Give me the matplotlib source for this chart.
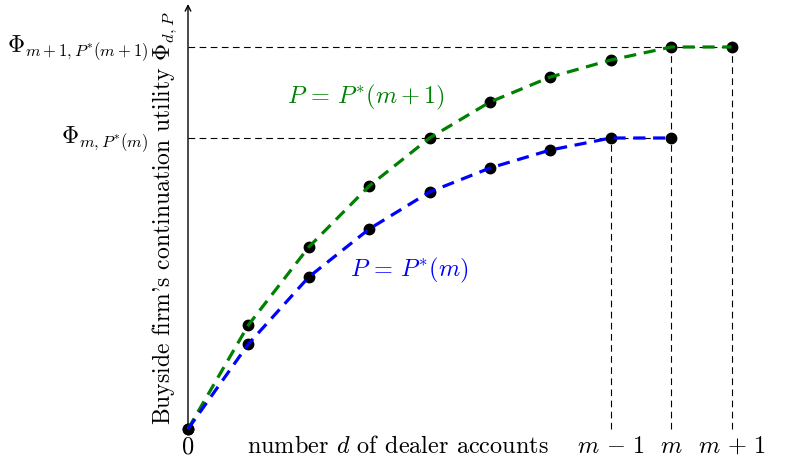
import matplotlib
matplotlib.use('Agg')
from matplotlib import pyplot as plt
import numpy as np

plt.rcParams['mathtext.fontset'] = 'cm'
plt.rcParams['font.family'] = ['cmr10', 'DejaVu Serif']
plt.rcParams['axes.unicode_minus'] = False

# number of dealer accounts d = 0 .. m+1 (m = 8)
d_green = np.arange(10)
phi_green = [0, 104, 182, 243, 291, 327, 352, 369, 382, 382]   # P = P*(m+1)
d_blue = np.arange(9)
phi_blue = [0, 85, 152, 200, 237, 261, 279, 291, 291]          # P = P*(m)

x_ticks = [0, 7, 8, 9]
x_ticklabels = ['$0$', r'$m\,-\,1$', '$m$', r'$m\,+\,1$']
phi_levels = [phi_blue[-1], phi_green[-1]]
phi_labels = [r'$\Phi_{m,P^{*}(m)}$', r'$\Phi_{m+1,P^{*}(m+1)}$']

px = 60.4  # pixels per step on x
fig = plt.figure(figsize=(7.88, 4.6), dpi=100)
ax = fig.add_axes([0, 0, 1, 1])
ax.set_xlim(-188 / px, 600 / px)
ax.set_ylim(-30, 430)
ax.axis('off')

# guide lines
guide = dict(color='black', lw=0.8, ls=(0, (6, 4)), zorder=1)
ax.plot([0, 8], [phi_levels[0]] * 2, **guide)
ax.plot([0, 9], [phi_levels[1]] * 2, **guide)
ax.plot([7, 7], [0, phi_levels[0]], **guide)
ax.plot([8, 8], [0, phi_levels[1]], **guide)
ax.plot([9, 9], [0, phi_levels[1]], **guide)

# axes with arrows
ax.annotate('', xy=(602 / px, 0), xytext=(0, 0),
            arrowprops=dict(arrowstyle='->', color='black', lw=1.0, shrinkA=0, shrinkB=0))
ax.annotate('', xy=(0, 425), xytext=(0, 0),
            arrowprops=dict(arrowstyle='->', color='black', lw=1.0, shrinkA=0, shrinkB=0))

# points and curves
ax.plot(d_green, phi_green, 'o', color='black', ms=7.5, zorder=3)
ax.plot(d_blue, phi_blue, 'o', color='black', ms=7.5, zorder=3)
ax.plot(d_green, phi_green, color='green', lw=2.3, ls=(0, (3.8, 2.4)), zorder=4)
ax.plot(d_blue, phi_blue, color='blue', lw=2.3, ls=(0, (3.8, 2.4)), zorder=4)

ax.text(2.95, 333, r'$P\,=\,P^{*}(m+1)$', color='green', fontsize=17.5, ha='center', va='center')
ax.text(3.66, 160, r'$P\,=\,P^{*}(m)$', color='blue', fontsize=17.5, ha='center', va='center')

for t, lab in zip(x_ticks, x_ticklabels):
    ax.text(t, -17, lab, fontsize=17.5, ha='center', va='center')
ax.text(3.48, -17, 'number $d$ of dealer accounts', fontsize=17.5, ha='center', va='center')

for lev, lab in zip(phi_levels, phi_labels):
    ax.text(-40 / px, lev, lab, fontsize=17, ha='right', va='center')

ax.text(-23 / px, 212, r"Buyside firm's continuation utility $\Phi_{d,P}$",
        fontsize=17, rotation=90, ha='center', va='center')

fig.savefig('out.png', dpi=100)
